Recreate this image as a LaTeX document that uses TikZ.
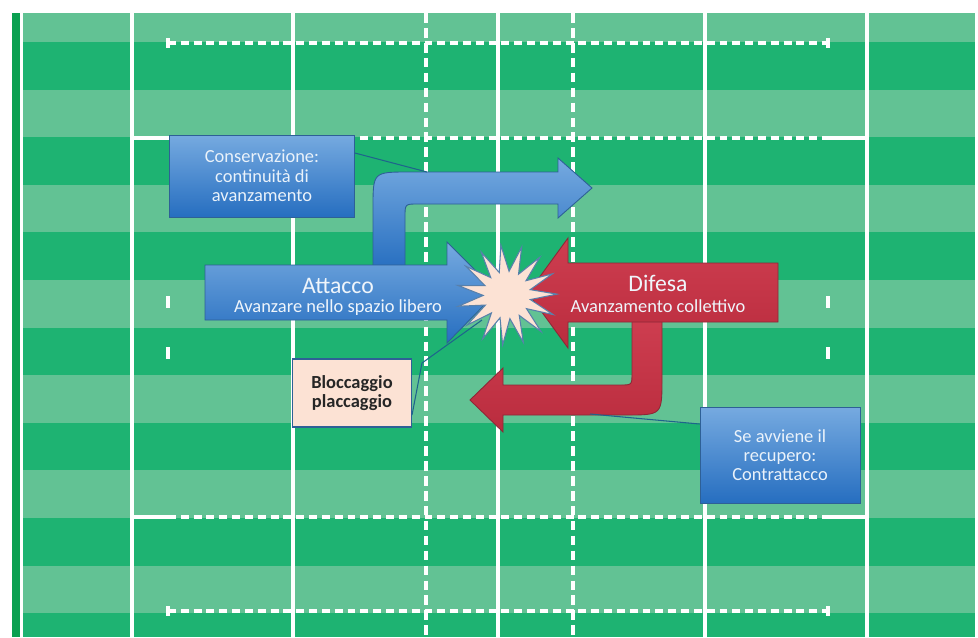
\documentclass[tikz,border=0pt]{standalone}
\usepackage{fontspec}
\setmainfont{Carlito}
\usetikzlibrary{shapes.geometric}
\tikzset{>=stealth}
\definecolor{fieldlight}{RGB}{98,194,148}
\definecolor{fielddark}{RGB}{30,179,114}
\definecolor{fieldedge}{RGB}{10,160,80}
\definecolor{blueA}{RGB}{118,170,224}
\definecolor{blueB}{RGB}{38,110,192}
\definecolor{blueline}{RGB}{46,96,150}
\definecolor{redA}{RGB}{206,62,80}
\definecolor{redB}{RGB}{186,44,62}
\definecolor{redline}{RGB}{140,40,55}
\definecolor{peach}{RGB}{252,226,212}
\definecolor{pointerline}{RGB}{30,100,140}
\newcommand{\bigtxt}{\fontsize{13.5}{15}\selectfont}
\newcommand{\smalltxt}{\fontsize{10.5}{11}\selectfont}
\tikzset{
    fieldline/.style={white, line width=1.9pt},
    halfway/.style={white, line width=2.3pt, dash pattern=on 5.5pt off 3pt},
    dashline/.style={white, line width=2.1pt, dash pattern=on 4.5pt off 2.8pt},
    bluearrow/.style={draw=blueline, line width=0.5pt, top color=blueA, bottom color=blueB},
    redarrow/.style={draw=redline, line width=0.5pt, top color=redA, bottom color=redB},
    arrowtext/.style={text=white!88!blueA, font=\smalltxt, inner sep=0pt},
    bluebox/.style={draw=blueline, line width=0.5pt, top color=blueA, bottom color=blueB, text=white!85!blueA, font=\smalltxt, align=center, inner sep=0pt},
    peachbox/.style={draw=blueline, line width=0.6pt, fill=peach, text=black!85, font=\smalltxt\bfseries, align=center, inner sep=0pt},
    burst/.style={star, star points=15, star point ratio=2.1, minimum size=2cm, inner sep=0pt, fill=peach, draw=blueline!80, line width=0.6pt},
    pointer/.style={draw=pointerline, line width=0.6pt}
}

\begin{document}
\begin{tikzpicture}[x=0.02cm, y=-0.02cm]
    \useasboundingbox (0,0) rectangle (978,637);
    % field
    \fill[fieldlight] (20,13) rectangle (975,637);
    \foreach \k in {0,...,6}
        \fill[fielddark] (20,{42+95.2*\k}) rectangle (975,{min(89.6+95.2*\k,637)});
    \fill[fieldedge] (12,13) rectangle (20,637);
    \foreach \x in {21.5,132,293,498,705,867}
        \draw[fieldline] (\x,13) -- (\x,637);
    \foreach \x in {426,573}
        \draw[halfway] (\x,13) -- (\x,637);
    \foreach \y in {138,517} {
        \draw[fieldline] (132,\y) -- (168,\y);
        \draw[fieldline] (828,\y) -- (867,\y);
    }
    \foreach \y in {43,138,517,611}
        \draw[dashline] (168,\y) -- (828,\y);
    \foreach \x in {168,828} {
        \foreach \y in {43,611}
            \draw[fieldline] (\x,{\y-5}) -- (\x,{\y+5});
        \foreach \y in {302,353}
            \draw[fieldline] (\x,{\y-6}) -- (\x,{\y+6});
    }

    % arrows
    \draw[bluearrow] (373,270) -- (373,208) .. controls (373,172) .. (409,172) -- (558,172) -- (558,158) -- (592,188) -- (558,218) -- (558,204) -- (418,204) .. controls (405,204) .. (405,217) -- (405,270) -- cycle;
    \draw[bluearrow] (205,265) -- (447,265) -- (447,242) -- (497,292) -- (447,343) -- (447,320) -- (205,320) -- cycle;
    \draw[redarrow] (632,318) -- (632,373) .. controls (632,385) .. (620,385) -- (503,385) -- (503,368) -- (470,400) -- (503,432) -- (503,415) -- (626,415) .. controls (662,415) .. (662,379) -- (662,318) -- cycle;
    \draw[redarrow] (778,263) -- (568,263) -- (568,238) -- (528,293) -- (568,348) -- (568,322) -- (778,322) -- cycle;
    \node[burst, rotate=7] (impatto) at (507,295) {};

    \node[arrowtext, font=\bigtxt] (attacco) at (338,286) {Attacco};
    \node[arrowtext] (attaccoSub) at (338,308) {Avanzare nello spazio libero};
    \node[arrowtext, font=\bigtxt] (difesa) at (658,283) {Difesa};
    \node[arrowtext] (difesaSub) at (658,306) {Avanzamento collettivo};

    % callouts
    \node[bluebox, minimum width=3.7cm, minimum height=1.64cm] (cons) at (262,176) {Conservazione:\\continuità di\\avanzamento};
    \node[bluebox, minimum width=3.2cm, minimum height=1.92cm] (recup) at (780,455) {Se avviene il\\recupero:\\Contrattacco};
    \node[peachbox, minimum width=2.38cm, minimum height=1.36cm] (blocc) at (352,393) {Bloccaggio\\placcaggio};

    \coordinate (consTip) at (427,172);
    \coordinate (blocBend) at (422,363);
    \coordinate (blocTip) at (482,320);
    \coordinate (recTip) at (590,414);
    \draw[pointer] ([yshift=.46cm]cons.east) -- (consTip);
    \draw[pointer] ([yshift=-.44cm]blocc.east) -- (blocBend) -- (blocTip);
    \draw[pointer] ([yshift=.62cm]recup.west) -- (recTip);
\end{tikzpicture}
\end{document}
